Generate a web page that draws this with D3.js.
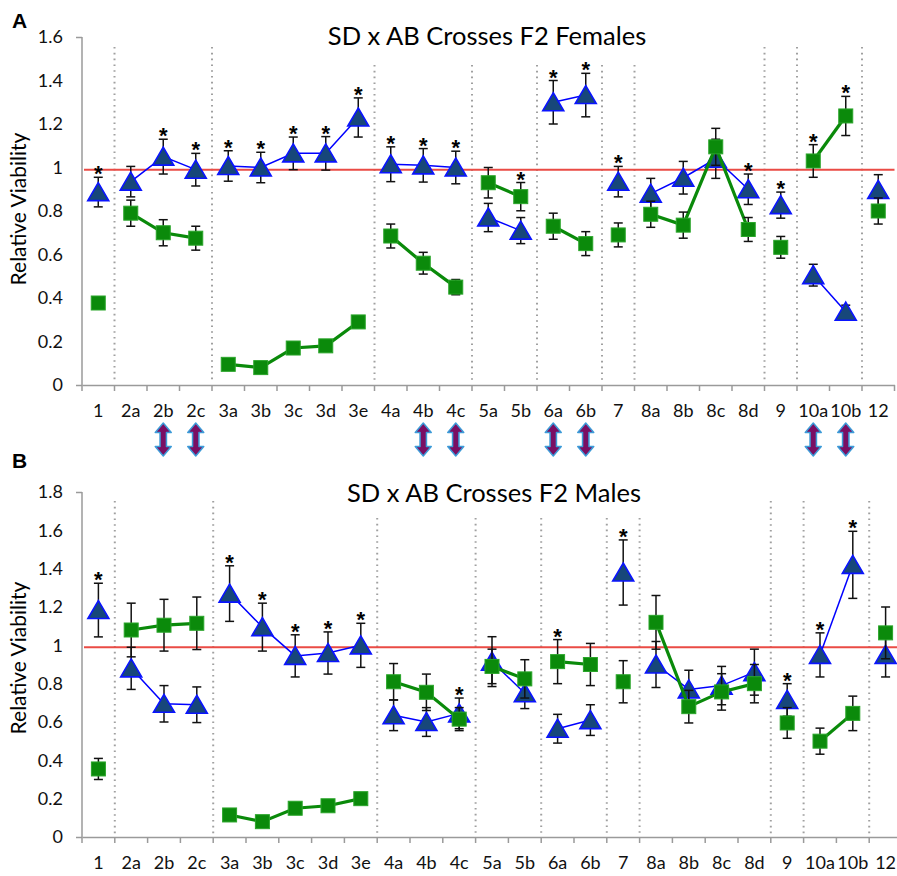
<!DOCTYPE html>
<meta charset="utf-8">
<head>
<style>
  body { margin: 0; background: #fff; }
  svg { display: block; }
  text { font-family: Lato, "Open Sans", sans-serif; }
</style>
</head>
<body>
<script src="https://d3js.org/d3.v7.min.js"></script>
<script>
  // categories on the x axis
  var cats = ["1", "2a", "2b", "2c", "3a", "3b", "3c", "3d", "3e", "4a", "4b", "4c", "5a", "5b",
    "6a", "6b", "7", "8a", "8b", "8c", "8d", "9", "10a", "10b", "12"];
  // dotted separators sit before these category indexes
  var breaks = [1, 4, 9, 12, 14, 16, 17, 21, 22, 24];
  var arrowCats = ["2b", "2c", "4b", "4c", "6a", "6b", "10a", "10b"];

  // A: females
  var femTri = [0.887, 0.935, 1.05, 0.99, 1.007, 1.0, 1.065, 1.065, 1.23, 1.015, 1.01, 1.0, 0.77, 0.71,
    1.30, 1.333, 0.935, 0.88, 0.953, 1.04, 0.90, 0.827, 0.505, 0.337, 0.897];
  var femTriErr = [0.068, 0.07, 0.08, 0.075, 0.07, 0.07, 0.075, 0.077, 0.09, 0.08, 0.077, 0.075, 0.065, 0.06,
    0.10, 0.10, 0.07, 0.07, 0.075, 0.09, 0.07, 0.06, 0.05, 0.03, 0.07];
  var femSq = [0.377, 0.79, 0.70, 0.675, 0.095, 0.08, 0.17, 0.18, 0.29, 0.685, 0.56, 0.45, 0.93, 0.866,
    0.73, 0.65, 0.69, 0.785, 0.735, 1.095, 0.715, 0.633, 1.03, 1.237, 0.80];
  var femSqErr = [0.02, 0.06, 0.06, 0.055, 0.01, 0.01, 0.01, 0.01, 0.01, 0.055, 0.05, 0.035, 0.07, 0.065,
    0.06, 0.055, 0.055, 0.06, 0.06, 0.085, 0.055, 0.05, 0.075, 0.09, 0.06];
  var femTriStars = ["1", "2b", "2c", "3a", "3b", "3c", "3d", "3e", "4a", "4b", "4c", "6a", "6b", "7", "8d", "9"];
  var femSqStars = ["5b", "10a", "10b"];

  // B: males
  var maleTri = [1.184, 0.88, 0.695, 0.69, 1.27, 1.095, 0.945, 0.96, 1.0, 0.635, 0.60, 0.645, 0.915, 0.75,
    0.565, 0.61, 1.38, 0.90, 0.77, 0.79, 0.86, 0.715, 0.95, 1.42, 0.95];
  var maleTriErr = [0.14, 0.11, 0.095, 0.093, 0.145, 0.125, 0.11, 0.11, 0.115, 0.08, 0.075, 0.08, 0.13, 0.08,
    0.075, 0.08, 0.17, 0.12, 0.1, 0.1, 0.12, 0.085, 0.115, 0.175, 0.115];
  var maleSq = [0.355, 1.08, 1.105, 1.115, 0.115, 0.08, 0.15, 0.163, 0.20, 0.81, 0.755, 0.615, 0.89, 0.825,
    0.915, 0.90, 0.81, 1.12, 0.68, 0.757, 0.80, 0.595, 0.50, 0.645, 1.065];
  var maleSqErr = [0.055, 0.14, 0.135, 0.137, 0.01, 0.01, 0.01, 0.01, 0.015, 0.095, 0.095, 0.06, 0.09, 0.1,
    0.115, 0.11, 0.11, 0.14, 0.085, 0.095, 0.1, 0.08, 0.068, 0.09, 0.135];
  var maleTriStars = ["1", "3a", "3b", "3c", "3d", "3e", "4c", "7", "9", "10a", "10b"];
  var maleSqStars = ["6a"];

  var yTicksA = [0, 0.2, 0.4, 0.6, 0.8, 1, 1.2, 1.4, 1.6];
  var yTicksB = [0, 0.2, 0.4, 0.6, 0.8, 1, 1.2, 1.4, 1.6, 1.8];
  var refValue = 0.99;

  var W = 897, H = 876;
  var svg = d3.select("body").append("svg")
    .attr("width", W)
    .attr("height", H);

  // group id per category, lines only join points inside a group
  var groupOf = cats.map(function (c, i) {
    return breaks.filter(function (b) { return b <= i; }).length;
  });

  function drawPanel(p) {
    var g = svg.append("g");
    var x = d3.scaleBand().domain(cats).range([p.left, p.left + p.band * cats.length]);
    var y = d3.scaleLinear().domain([0, p.yMax]).range([p.bottom, p.top]);

    // panel letter
    g.append("text")
      .attr("x", 12).attr("y", p.letterY)
      .style("font-family", "'Liberation Sans', Arial, sans-serif")
      .style("font-size", "21px").style("font-weight", "bold")
      .text(p.letter);

    // title
    var title = g.append("text")
      .attr("x", p.titleX).attr("y", p.titleY)
      .attr("text-anchor", "middle")
      .style("font-size", "25.5px")
      .text(p.title);
    var tb = title.node().getBBox();

    // y axis
    var yAxis = d3.axisLeft(y).tickValues(p.yTicks).tickSize(6).tickSizeOuter(0)
      .tickFormat(function (d) { return d3.format("")(+d.toFixed(1)); });
    var ya = g.append("g").attr("transform", "translate(" + p.left + ",0)").call(yAxis);
    ya.select(".domain").attr("stroke", "#9a9a9a").attr("stroke-width", 1.5)
      .attr("d", "M0," + p.bottom + "V" + p.top);
    ya.selectAll(".tick line").attr("stroke", "#9a9a9a").attr("stroke-width", 1.5)
      .attr("x2", function (d) { return d === 0 || d === p.yMax ? -6 : 0; });
    ya.selectAll(".tick text").attr("x", -19)
      .style("font-size", "18px").style("fill", "#111").style("font-family", "Lato, sans-serif");

    // x axis
    var xa = g.append("g").attr("transform", "translate(0," + p.bottom + ")")
      .call(d3.axisBottom(x).tickSize(0).tickSizeOuter(0));
    xa.select(".domain").attr("stroke", "#9a9a9a").attr("stroke-width", 1.5);
    xa.selectAll(".tick text").attr("y", 32).attr("dy", null)
      .style("font-size", "18px").style("fill", "#111").style("font-family", "Lato, sans-serif");
    d3.range(cats.length + 1).forEach(function (i) {
      var xx = p.left + i * p.band;
      g.append("line").attr("x1", xx).attr("x2", xx)
        .attr("y1", p.bottom).attr("y2", p.bottom + 6)
        .attr("stroke", "#9a9a9a").attr("stroke-width", 1.5);
    });

    // y title
    g.append("text")
      .attr("transform", "translate(" + 26 + "," + p.yTitleY + ") rotate(-90)")
      .attr("text-anchor", "middle")
      .style("font-size", "21px")
      .text("Relative Viability");

    // dotted group separators
    breaks.forEach(function (b) {
      var xx = p.left + b * p.band;
      var under = xx > tb.x - 10 && xx < tb.x + tb.width + 10;
      g.append("line")
        .attr("x1", xx).attr("x2", xx)
        .attr("y1", under ? p.dotTopLow : p.dotTop).attr("y2", p.bottom - 3)
        .attr("stroke", "#a0a0a0").attr("stroke-width", 2)
        .attr("stroke-dasharray", "1.6,4.2");
    });

    // red reference line
    g.append("line")
      .attr("x1", p.left + 2).attr("x2", p.left + p.band * cats.length)
      .attr("y1", y(refValue)).attr("y2", y(refValue))
      .attr("stroke", "#ea4b45").attr("stroke-width", 2);

    var cx = function (i) { return x(cats[i]) + x.bandwidth() / 2; };

    function series(vals, errs, stars, kind) {
      var pts = vals.map(function (v, i) { return { i: i, v: v, e: errs[i], grp: groupOf[i] }; });
      var byGroup = d3.groups(pts, function (d) { return d.grp; });
      var line = d3.line().x(function (d) { return cx(d.i); }).y(function (d) { return y(d.v); });
      byGroup.forEach(function (gr) {
        if (gr[1].length < 2) return;
        g.append("path").datum(gr[1]).attr("d", line).attr("fill", "none")
          .attr("stroke", kind === "tri" ? "#0000ff" : "#0a8a0a")
          .attr("stroke-width", kind === "tri" ? 1.5 : 3.2);
      });
      // error bars
      var eb = g.append("g").attr("stroke", "#111").attr("stroke-width", 1.5);
      pts.forEach(function (d) {
        var xx = cx(d.i), t = y(d.v + d.e), b = y(d.v - d.e);
        eb.append("line").attr("x1", xx).attr("x2", xx).attr("y1", t).attr("y2", b);
        eb.append("line").attr("x1", xx - 4.5).attr("x2", xx + 4.5).attr("y1", t).attr("y2", t);
        eb.append("line").attr("x1", xx - 4.5).attr("x2", xx + 4.5).attr("y1", b).attr("y2", b);
      });
      // markers
      pts.forEach(function (d) {
        var xx = cx(d.i), yy = y(d.v);
        if (kind === "tri") {
          g.append("path")
            .attr("d", "M" + xx + "," + (yy - 9.5) + "L" + (xx + 10.5) + "," + (yy + 8.5) + "L" + (xx - 10.5) + "," + (yy + 8.5) + "Z")
            .attr("fill", "#17477a").attr("stroke", "#0a14ff").attr("stroke-width", 1.6);
        } else {
          g.append("rect").attr("x", xx - 7).attr("y", yy - 7).attr("width", 14).attr("height", 14)
            .attr("fill", "#0b8a0b").attr("stroke", "#2aa52a").attr("stroke-width", 1);
        }
      });
      // significance stars
      pts.filter(function (d) { return stars.indexOf(cats[d.i]) >= 0; }).forEach(function (d) {
        g.append("text").attr("x", cx(d.i)).attr("y", y(d.v + d.e) + 4)
          .attr("text-anchor", "middle")
          .style("font-family", "'Liberation Sans', Arial, sans-serif")
          .style("font-weight", "bold").style("font-size", "22px").text("*");
      });
    }

    series(p.tri, p.triErr, p.triStars, "tri");
    series(p.sq, p.sqErr, p.sqStars, "sq");
  }

  drawPanel({
    letter: "A", letterY: 28, title: "SD x AB Crosses F2 Females", titleX: 487, titleY: 45,
    left: 82, band: 32.5, top: 37, bottom: 385, yMax: 1.6, yTicks: yTicksA, yTitleY: 209,
    dotTop: 47, dotTopLow: 65,
    tri: femTri, triErr: femTriErr, triStars: femTriStars,
    sq: femSq, sqErr: femSqErr, sqStars: femSqStars
  });

  drawPanel({
    letter: "B", letterY: 468, title: "SD x AB Crosses F2 Males", titleX: 494, titleY: 502,
    left: 82, band: 32.8, top: 492, bottom: 837, yMax: 1.8, yTicks: yTicksB, yTitleY: 658,
    dotTop: 501, dotTopLow: 518,
    tri: maleTri, triErr: maleTriErr, triStars: maleTriStars,
    sq: maleSq, sqErr: maleSqErr, sqStars: maleSqStars
  });

  // double-headed arrows between the panels
  var xArrow = d3.scaleBand().domain(cats).range([82, 82 + 32.5 * cats.length]);
  arrowCats.forEach(function (c) {
    var ax = xArrow(c) + xArrow.bandwidth() / 2, top = 423, bot = 456;
    var hw = 8, sw = 3.2, hh = 9.5;
    var d = "M" + ax + "," + top +
      "L" + (ax + hw) + "," + (top + hh) + "L" + (ax + sw) + "," + (top + hh) +
      "L" + (ax + sw) + "," + (bot - hh) + "L" + (ax + hw) + "," + (bot - hh) +
      "L" + ax + "," + bot +
      "L" + (ax - hw) + "," + (bot - hh) + "L" + (ax - sw) + "," + (bot - hh) +
      "L" + (ax - sw) + "," + (top + hh) + "L" + (ax - hw) + "," + (top + hh) + "Z";
    svg.append("path").attr("d", d)
      .attr("fill", "#7a0f63").attr("stroke", "#3d9bd8").attr("stroke-width", 1.5)
      .attr("stroke-linejoin", "round");
  });
</script>
</body>
</html>
